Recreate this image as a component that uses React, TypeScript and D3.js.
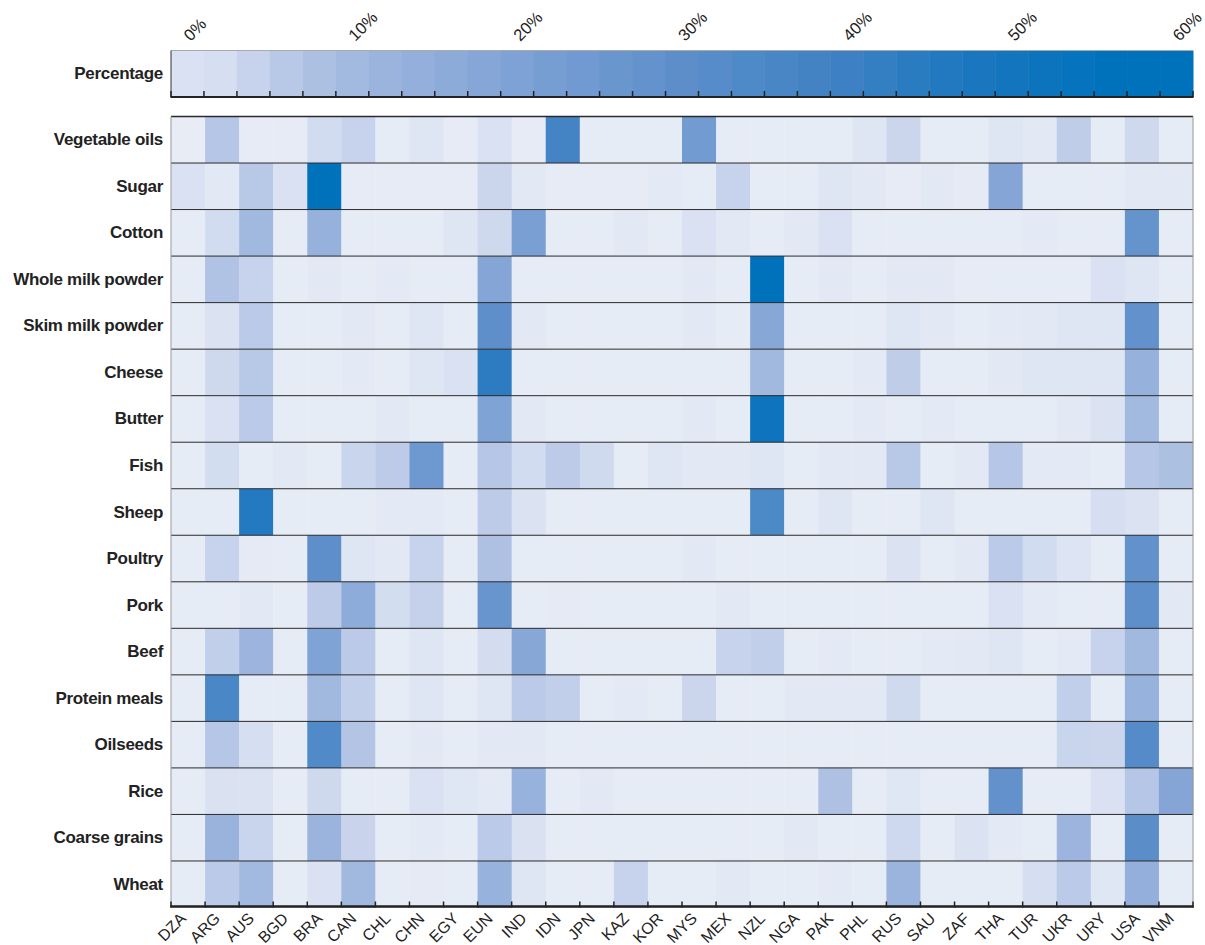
import React from 'react';
import * as d3 from 'd3';

const countries = ['DZA','ARG','AUS','BGD','BRA','CAN','CHL','CHN','EGY','EUN','IND','IDN','JPN','KAZ','KOR','MYS','MEX','NZL','NGA','PAK','PHL','RUS','SAU','ZAF','THA','TUR','UKR','URY','USA','VNM'];

const commodities = ['Vegetable oils','Sugar','Cotton','Whole milk powder','Skim milk powder','Cheese','Butter','Fish','Sheep','Poultry','Pork','Beef','Protein meals','Oilseeds','Rice','Coarse grains','Wheat'];

//                       DZA  ARG  AUS  BGD  BRA  CAN  CHL  CHN  EGY  EUN  IND  IDN  JPN  KAZ  KOR  MYS  MEX  NZL  NGA  PAK  PHL  RUS  SAU  ZAF  THA  TUR  UKR  URY  USA  VNM
const vegetableOils   = [0.3, 7,   0.5, 0.5, 3,   4.5, 0.4, 1.5, 0.5, 2,   0.5, 38,  0.4, 0.4, 0.4, 24,  0.4, 0.4, 0.4, 0.4, 1.5, 4,   0.4, 0.4, 1.5, 1,   5.5, 0.4, 3.5, 0.4];
const sugar           = [2,   0.8, 6.5, 2,   58,  0.5, 0.5, 0.5, 0.5, 4,   0.8, 0.5, 0.5, 0.5, 0.7, 0.4, 4.5, 0.4, 0.4, 1.5, 1,   0.5, 0.8, 0.6, 19,  0.4, 0.4, 0.4, 0.8, 1];
const cotton          = [0.4, 3,   11,  0.4, 14,  0.4, 0.4, 0.4, 1.5, 3.5, 22,  0.4, 0.4, 1,   0.4, 2,   1,   0.4, 1,   2,   0.4, 0.4, 0.4, 0.4, 0.4, 0.7, 0.4, 0.4, 28,  0.4];
const wholeMilkPowder = [0.4, 7.5, 4.5, 0.4, 1,   0.4, 0.7, 0.4, 0.4, 19,  0.4, 0.4, 0.4, 0.4, 0.4, 0.8, 0.4, 56,  0.4, 0.8, 0.4, 1,   0.8, 0.5, 0.4, 0.4, 0.4, 2,   1.3, 0.4];
const skimMilkPowder  = [0.4, 1.8, 6,   0.4, 0.4, 0.8, 0.4, 1.3, 0.4, 30,  1,   0.4, 0.4, 0.4, 0.4, 1,   0.4, 18,  0.4, 0.4, 0.4, 1.3, 0.8, 0.4, 0.7, 1,   1.3, 1.5, 29,  0.4];
const cheese          = [0.4, 3.5, 6.5, 0.4, 0.4, 0.7, 0.4, 1.3, 2,   44,  0.4, 0.4, 0.4, 0.4, 0.4, 0.4, 0.4, 11,  0.4, 0.4, 0.7, 5.5, 0.4, 0.4, 1,   1.3, 1.3, 1.5, 14,  0.4];
const butter          = [0.4, 2,   6,   0.4, 0.4, 0.4, 0.8, 0.4, 0.4, 20,  0.8, 0.4, 0.4, 0.4, 0.4, 0.8, 0.4, 52,  0.4, 0.4, 0.7, 0.4, 0.7, 0.4, 0.4, 0.4, 1,   1.8, 10.5, 0.4];
const fish            = [0.4, 2.8, 0.4, 1,   0.4, 4.2, 5.8, 25,  0.4, 7,   3,   5.8, 3.3, 0.4, 1.5, 1,   0.8, 1.5, 0.4, 1,   0.8, 6.5, 0.4, 1,   7,   0.7, 0.7, 0.4, 7,   8.5];
const sheep           = [0.4, 0.4, 46,  0.4, 0.4, 0.4, 0.7, 0.7, 0.4, 5.8, 1.8, 0.4, 0.4, 0.4, 0.4, 0.4, 0.4, 35,  0.4, 1.5, 0.4, 0.4, 1.5, 0.4, 0.4, 0.4, 0.4, 2.5, 1.8, 0.4];
const poultry         = [0.4, 4.5, 0.6, 0.4, 30,  1.5, 1,   4.5, 0.4, 8,   0.4, 0.4, 0.4, 0.4, 0.4, 0.8, 0.4, 0.4, 0.4, 0.4, 0.4, 1.8, 0.4, 0.8, 6,   3,   1.6, 0.4, 29,  0.4];
const pork            = [0.4, 0.4, 0.8, 0.4, 5.8, 16,  2.8, 4.8, 0.4, 27,  0.4, 0.6, 0.4, 0.4, 0.4, 0.4, 1,   0.4, 0.4, 0.4, 0.4, 0.4, 0.4, 0.4, 2,   0.7, 0.4, 0.4, 30,  1];
const beef            = [0.4, 5.2, 12,  0.4, 20,  6,   0.4, 1.5, 0.4, 2.7, 18,  0.4, 0.4, 0.4, 0.4, 0.4, 4.5, 5.2, 0.4, 0.7, 0.4, 0.4, 0.7, 0.9, 1.5, 0.4, 0.7, 4.5, 11,  0.4];
const proteinMeals    = [0.4, 36,  0.4, 0.4, 11,  5.2, 0.4, 1.4, 0.4, 1.4, 6,   5.2, 0.4, 0.7, 0.4, 4,   0.4, 0.4, 0.8, 0.8, 1,   3.3, 0.4, 0.4, 0.4, 0.4, 5.2, 0.4, 13.5, 0.4];
const oilseeds        = [0.4, 7,   2.5, 0.4, 34,  7.3, 0.4, 0.8, 0.4, 0.9, 0.8, 0.4, 0.4, 0.4, 0.4, 0.4, 0.4, 0.4, 0.4, 0.4, 0.4, 0.4, 0.4, 0.4, 0.4, 0.4, 4.2, 4,   33,  0.4];
const rice            = [0.4, 1.9, 1.8, 0.4, 3.5, 0.4, 0.4, 2,   1.2, 0.7, 13.5, 0.4, 1,  0.4, 0.4, 0.4, 0.4, 0.4, 0.4, 8,   0.4, 1.2, 0.4, 0.4, 29,  0.4, 0.4, 2,   7,   19];
const coarseGrains    = [0.4, 13,  4.2, 0.4, 12.5, 4.3, 0.4, 0.7, 0.4, 6,  1.9, 0.4, 0.4, 0.4, 0.4, 0.4, 0.4, 0.4, 1,   0.4, 0.4, 3.6, 0.4, 1.8, 0.7, 0.4, 12,  0.4, 31,  0.4];
const wheat           = [0.4, 6,   10.5, 0.4, 2,  11,  0.4, 0.6, 0.4, 13.5, 1.5, 0.4, 0.4, 4.5, 0.4, 0.4, 1,  0.4, 0.4, 0.7, 0.4, 12.5, 0.4, 0.4, 0.4, 2.5, 6,   1.2, 14.5, 0.4];

const rowValues = [vegetableOils, sugar, cotton, wholeMilkPowder, skimMilkPowder, cheese, butter, fish, sheep, poultry, pork, beef, proteinMeals, oilseeds, rice, coarseGrains, wheat];

const legendSteps = [0,2,4,6,8,10,12,14,16,18,20,22,24,26,28,30,32,34,36,38,40,42,44,46,48,50,52,54,56,58,60];
const legendTicks = [0,10,20,30,40,50,60];

const colorStops = [0, 1, 2, 4, 6, 8, 12, 16, 20, 25, 30, 35, 40, 45, 50, 56, 60];
const colorRange = ['#e9eef6','#e2e8f4','#d9e1f2','#cbd6ed','#bbcae8','#aec1e3','#9db5de','#8eacd9','#80a3d5','#6e99d0','#5f8fca','#4c89c7','#3f80c3','#287bc1','#1475be','#0072bc','#0072bc'];

const color = d3.scaleLinear<string>().domain(colorStops).range(colorRange).interpolate(d3.interpolateRgb).clamp(true);

const FONT = '"Liberation Sans", Arial, Helvetica, sans-serif';

export default function App() {
  const W = 1205, H = 945;
  const left = 171, right = 1193;
  const gridTop = 116.5, gridBottom = 907.5;
  const legTop = 50.5, legBottom = 97;

  const x = d3.scaleBand<string>().domain(countries).range([left, right]);
  const y = d3.scaleBand<string>().domain(commodities).range([gridTop, gridBottom]);
  const lx = d3.scaleBand<number>().domain(legendSteps).range([left, right]);

  const colBounds = countries.map(c => x(c)!).concat([right]);
  const legBounds = legendSteps.map(v => lx(v)!).concat([right]);

  return (
    <div>
      <style>{`body{margin:0}`}</style>
      <svg width={W} height={H} style={{ display: 'block', fontFamily: FONT }}>
        <rect width={W} height={H} fill="#fff" />

        {/* Legend */}
        <text x={163} y={(legTop + legBottom) / 2} textAnchor="end" dominantBaseline="central"
          fontWeight="bold" fontSize={17} letterSpacing={-0.3} fill="#222">Percentage</text>
        {legendSteps.map(v => (
          <rect key={v} x={lx(v)!} y={legTop} width={lx.bandwidth() + 0.5} height={legBottom - legTop}
            fill={color(Math.max(v, 2) + (v >= 2 ? 0.5 : 0))} />
        ))}
        <line x1={left} x2={right} y1={legTop} y2={legTop} stroke="#aaa" strokeWidth={1} />
        <line x1={left} x2={left} y1={legTop} y2={legBottom} stroke="#333" strokeWidth={1} />
        <line x1={left - 0.5} x2={right + 0.5} y1={legBottom} y2={legBottom} stroke="#222" strokeWidth={2} />
        {legBounds.map((b, i) => (
          <line key={i} x1={b} x2={b} y1={legBottom - 6} y2={legBottom} stroke="#222" strokeWidth={1.5} />
        ))}
        {legendTicks.map(t => {
          const cx = lx(t)! + lx.bandwidth() / 2;
          return (
            <text key={t} transform={`translate(${cx + 3},${legTop - 8.5}) rotate(-45)`} fontSize={16.5}
              fill="#222" textAnchor="start">{t}%</text>
          );
        })}

        {/* Heatmap cells */}
        {commodities.map((c, ri) => (
          <g key={c}>
            {countries.map((k, ci) => (
              <rect key={k} x={x(k)!} y={y(c)!} width={x.bandwidth() + 0.4} height={y.bandwidth() + 0.4}
                fill={color(rowValues[ri][ci])} />
            ))}
          </g>
        ))}

        {/* Row separators */}
        {commodities.map((c, ri) => (
          <line key={c} x1={left} x2={right} y1={y(c)!} y2={y(c)!} stroke="#2a2a2a" strokeWidth={ri === 0 ? 1.5 : 1} />
        ))}
        <line x1={left} x2={left} y1={gridTop} y2={gridBottom} stroke="#999" strokeWidth={1} />
        <line x1={right} x2={right} y1={gridTop} y2={gridBottom} stroke="#999" strokeWidth={1} />

        {/* Row labels */}
        {commodities.map(c => (
          <text key={c} x={163} y={y(c)! + y.bandwidth() / 2} textAnchor="end" dominantBaseline="central"
            fontWeight="bold" fontSize={17} letterSpacing={-0.3} fill="#222">{c}</text>
        ))}

        {/* Bottom axis */}
        <line x1={left - 0.5} x2={right + 0.5} y1={gridBottom - 1} y2={gridBottom - 1} stroke="#222" strokeWidth={2.5} />
        {colBounds.map((b, i) => (
          <line key={i} x1={b} x2={b} y1={gridBottom - 6} y2={gridBottom} stroke="#222" strokeWidth={1.5} />
        ))}
        {countries.map(k => {
          const cx = x(k)! + x.bandwidth() / 2;
          return (
            <text key={k} transform={`translate(${cx - 1},${gridBottom + 12}) rotate(-45)`} fontSize={16}
              fill="#222" textAnchor="end">{k}</text>
          );
        })}
      </svg>
    </div>
  );
}
